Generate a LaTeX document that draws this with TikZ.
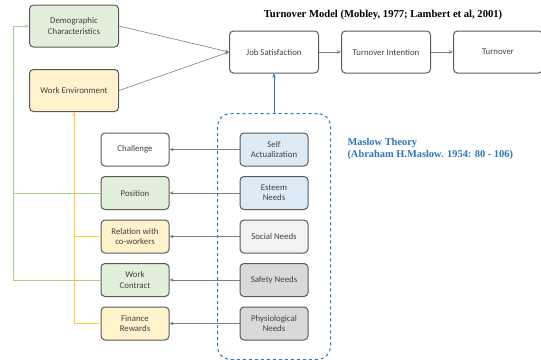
\documentclass[tikz,border=0pt]{standalone}
\usepackage{fontspec}
\setmainfont{Carlito}
\newfontfamily\titlefont{Liberation Serif}
\usetikzlibrary{positioning, fit, arrows.meta}
\definecolor{greenfill}{HTML}{E2EFDA}
\definecolor{yellowfill}{HTML}{FFF2CC}
\definecolor{bluefill}{HTML}{DDEBF7}
\definecolor{socialfill}{HTML}{F2F2F2}
\definecolor{safetyfill}{HTML}{D9D9D9}
\definecolor{boxline}{HTML}{595959}
\definecolor{linkgray}{HTML}{7F7F7F}
\definecolor{greenline}{HTML}{A9D18E}
\definecolor{yellowline}{HTML}{FFC000}
\definecolor{maslowblue}{HTML}{2E75B6}
\tikzset{
  >={Stealth[length=4pt,width=3.5pt]},
  box/.style={draw=boxline, line width=1pt, rounded corners=4pt, align=center,
    text=black!75, font=\fontsize{8.8}{10.2}\selectfont},
  bigbox/.style={box, minimum width=89pt, minimum height=42pt},
  smallbox/.style={box, minimum width=68pt, minimum height=33pt},
  link/.style={->, draw=linkgray, line width=0.6pt},
  greenlink/.style={draw=greenline, line width=0.6pt},
  yellowlink/.style={draw=yellowline!80, line width=0.6pt},
}

\begin{document}
\begin{tikzpicture}[x=1pt, y=-1pt]
  \useasboundingbox (0,0) rectangle (541,359);

  % turnover model
  \node[font=\titlefont\bfseries\fontsize{10.6}{12}\selectfont] (title) at (383,15)
    {Turnover Model (Mobley, 1977; Lambert et al, 2001)};
  \node[bigbox, fill=greenfill] (demo) at (74,26) {Demographic\\Characteristics};
  \node[bigbox, fill=yellowfill] (workenv) at (74,90.5) {Work Environment};
  \node[bigbox] (jobsat) at (274,52) {Job Satisfaction};
  \node[bigbox, right=22pt of jobsat] (intent) {Turnover Intention};
  \node[bigbox, right=22pt of intent] (turnover) {Turnover};

  % work factors
  \node[smallbox] (challenge) at (135,149.5) {Challenge};
  \node[smallbox, fill=greenfill, below=9.5pt of challenge] (position) {Position};
  \node[smallbox, fill=yellowfill, below=9.5pt of position] (relation) {Relation with\\co-workers};
  \node[smallbox, fill=greenfill, below=9.5pt of relation] (contract) {Work\\Contract};
  \node[smallbox, fill=yellowfill, below=9.5pt of contract] (finance) {Finance\\Rewards};

  % maslow needs
  \node[smallbox, fill=bluefill] (selfact) at (274,149.5) {Self\\Actualization};
  \node[smallbox, fill=bluefill, below=9.5pt of selfact] (esteem) {Esteem\\Needs};
  \node[smallbox, fill=socialfill, below=9.5pt of esteem] (social) {Social Needs};
  \node[smallbox, fill=safetyfill, below=9.5pt of social] (safety) {Safety Needs};
  \node[smallbox, fill=safetyfill, below=9.5pt of safety] (physio) {Physiological\\Needs};
  \node[draw=maslowblue, dashed, line width=1pt, rounded corners=13pt,
    inner xsep=22pt, inner ysep=19pt, fit=(selfact)(physio)] (maslow) {};
  \node[anchor=north west, align=left, text=maslowblue,
    font=\titlefont\bfseries\fontsize{10.4}{12}\selectfont] (maslowlabel) at (344,135)
    {Maslow Theory\\(Abraham H.Maslow. 1954: 80 - 106)};

  \coordinate (gbus) at (13,0);

  \draw[link] (demo.east) -- (jobsat.west);
  \draw[link] (workenv.east) -- (jobsat.west);
  \draw[link] (jobsat) -- (intent);
  \draw[link] (intent) -- (turnover);
  \draw[->, draw=maslowblue, line width=0.6pt] (maslow.north) -- (maslow.north |- jobsat.south);

  \draw[link] (selfact) -- (challenge);
  \draw[link] (esteem) -- (position);
  \draw[link] (social) -- (relation);
  \draw[link] (safety) -- (contract);
  \draw[link] (physio) -- (finance);

  \draw[greenlink, ->] (position.west) -| (gbus |- demo.west) -- (demo.west);
  \draw[greenlink] (contract.west) -| (gbus |- position.west);
  \draw[yellowlink, ->] (finance.west) -| (workenv.south);
  \draw[yellowlink] (relation.west) -- (relation.west -| workenv.south);
\end{tikzpicture}
\end{document}
